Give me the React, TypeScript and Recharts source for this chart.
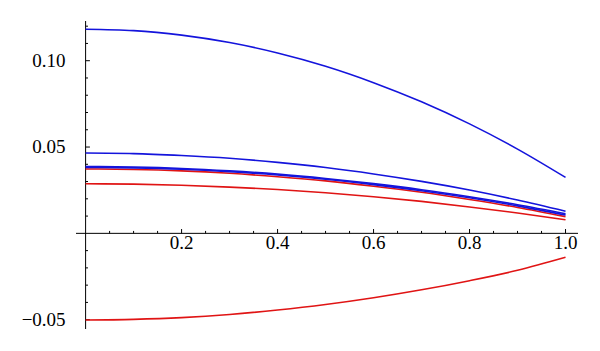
import { LineChart, Line, XAxis, YAxis, ReferenceLine } from 'recharts';

// abscissa samples and curves
const xs = [0, 0.1, 0.2, 0.3, 0.4, 0.5, 0.6, 0.7, 0.8, 0.9, 1.0];
const blueTop = [0.1182, 0.1174, 0.1148, 0.1105, 0.1045, 0.0968, 0.0873, 0.0762, 0.0634, 0.0488, 0.0324];
const blueMid = [0.0465, 0.0462, 0.0451, 0.0435, 0.0411, 0.0381, 0.0344, 0.0301, 0.0251, 0.0193, 0.0128];
const blueLowA = [0.0387, 0.0384, 0.0376, 0.0362, 0.0343, 0.0318, 0.0288, 0.0253, 0.0212, 0.0166, 0.0114];
const blueLowB = [0.0382, 0.0379, 0.0371, 0.0357, 0.0338, 0.0313, 0.0282, 0.0247, 0.0206, 0.0159, 0.0106];
const redHigh = [0.0373, 0.037, 0.0362, 0.0348, 0.0328, 0.0304, 0.0273, 0.0238, 0.0196, 0.015, 0.0097];
const redMid = [0.0287, 0.0285, 0.0279, 0.0268, 0.0254, 0.0235, 0.0212, 0.0185, 0.0153, 0.0118, 0.0079];
const redLow = [-0.0502, -0.0498, -0.0488, -0.047, -0.0444, -0.0412, -0.0373, -0.0327, -0.0274, -0.0214, -0.0139];

// axis ticks
const xMajor = [0.2, 0.4, 0.6, 0.8, 1.0];
const xMajorLabels = ['0.2', '0.4', '0.6', '0.8', '1.0'];
const xMinor = [0.05, 0.1, 0.15, 0.25, 0.3, 0.35, 0.45, 0.5, 0.55, 0.65, 0.7, 0.75, 0.85, 0.9, 0.95];
const yMajor = [-0.05, 0.05, 0.1];
const yMajorLabels = ['\u22120.05', '0.05', '0.10'];
const yMinor = [-0.04, -0.03, -0.02, -0.01, 0.01, 0.02, 0.03, 0.04, 0.06, 0.07, 0.08, 0.09, 0.11, 0.12];

const data = xs.map((x, i) => ({
    x,
    b1: blueTop[i],
    b2: blueMid[i],
    b3: blueLowA[i],
    b4: blueLowB[i],
    r1: redHigh[i],
    r2: redMid[i],
    r3: redLow[i],
}));

const BLUE = '#1414dc';
const RED = '#e01414';
const FONT = '"Liberation Serif", "DejaVu Serif", serif';
const LABEL_SIZE = 19;

// tick lengths in data units (480 px per x unit, 1726 px per y unit)
const X_TICK_MAJOR = 0.0025;
const X_TICK_MINOR = 0.0014;
const Y_TICK_MAJOR = 0.009;
const Y_TICK_MINOR = 0.005;

// label drawn under an x tick
const xLabel = (text: string) => (props: any) => {
    const vb = props.viewBox || {};
    return (
        <text
            x={vb.x + (vb.width || 0) / 2}
            y={vb.y + (vb.height || 0) + 2}
            dy="0.7em"
            textAnchor="middle"
            fill="#000"
            fontSize={LABEL_SIZE}
            fontFamily={FONT}
        >
            {text}
        </text>
    );
};

// label drawn left of the y axis
const yLabel = (text: string) => (props: any) => {
    const vb = props.viewBox || {};
    return (
        <text
            x={vb.x - 20}
            y={vb.y + (vb.height || 0) / 2}
            dy="0.34em"
            textAnchor="end"
            fill="#000"
            fontSize={LABEL_SIZE}
            fontFamily={FONT}
        >
            {text}
        </text>
    );
};

export default function App() {
    return (
        <div style={{ position: 'absolute', left: 0, top: 0, width: 600, height: 351, background: '#fff' }}>
            <LineChart width={600} height={351} data={data} margin={{ top: 21, right: 22, left: 76, bottom: 22 }}>
                <XAxis dataKey="x" type="number" domain={[-0.02, 1.026]} hide allowDataOverflow />
                <YAxis type="number" domain={[-0.0554, 0.123]} hide allowDataOverflow />

                {/* axes crossing at the origin */}
                <ReferenceLine y={0} stroke="#000" strokeWidth={1} />
                <ReferenceLine x={0} stroke="#000" strokeWidth={1} />

                {xMinor.map((t) => (
                    <ReferenceLine
                        key={`xm${t}`}
                        segment={[{ x: t, y: 0 }, { x: t, y: X_TICK_MINOR }]}
                        stroke="#000"
                    />
                ))}
                {xMajor.map((t, i) => (
                    <ReferenceLine
                        key={`xM${t}`}
                        segment={[{ x: t, y: 0 }, { x: t, y: X_TICK_MAJOR }]}
                        stroke="#000"
                        label={xLabel(xMajorLabels[i])}
                    />
                ))}
                {yMinor.map((t) => (
                    <ReferenceLine
                        key={`ym${t}`}
                        segment={[{ x: 0, y: t }, { x: Y_TICK_MINOR, y: t }]}
                        stroke="#000"
                    />
                ))}
                {yMajor.map((t, i) => (
                    <ReferenceLine
                        key={`yM${t}`}
                        segment={[{ x: 0, y: t }, { x: Y_TICK_MAJOR, y: t }]}
                        stroke="#000"
                        label={yLabel(yMajorLabels[i])}
                    />
                ))}

                <Line type="monotone" dataKey="r3" stroke={RED} strokeWidth={1.6} dot={false} isAnimationActive={false} />
                <Line type="monotone" dataKey="r2" stroke={RED} strokeWidth={1.6} dot={false} isAnimationActive={false} />
                <Line type="monotone" dataKey="r1" stroke={RED} strokeWidth={1.6} dot={false} isAnimationActive={false} />
                <Line type="monotone" dataKey="b4" stroke={BLUE} strokeWidth={1.6} dot={false} isAnimationActive={false} />
                <Line type="monotone" dataKey="b3" stroke={BLUE} strokeWidth={1.6} dot={false} isAnimationActive={false} />
                <Line type="monotone" dataKey="b2" stroke={BLUE} strokeWidth={1.6} dot={false} isAnimationActive={false} />
                <Line type="monotone" dataKey="b1" stroke={BLUE} strokeWidth={1.6} dot={false} isAnimationActive={false} />
            </LineChart>
        </div>
    );
}
